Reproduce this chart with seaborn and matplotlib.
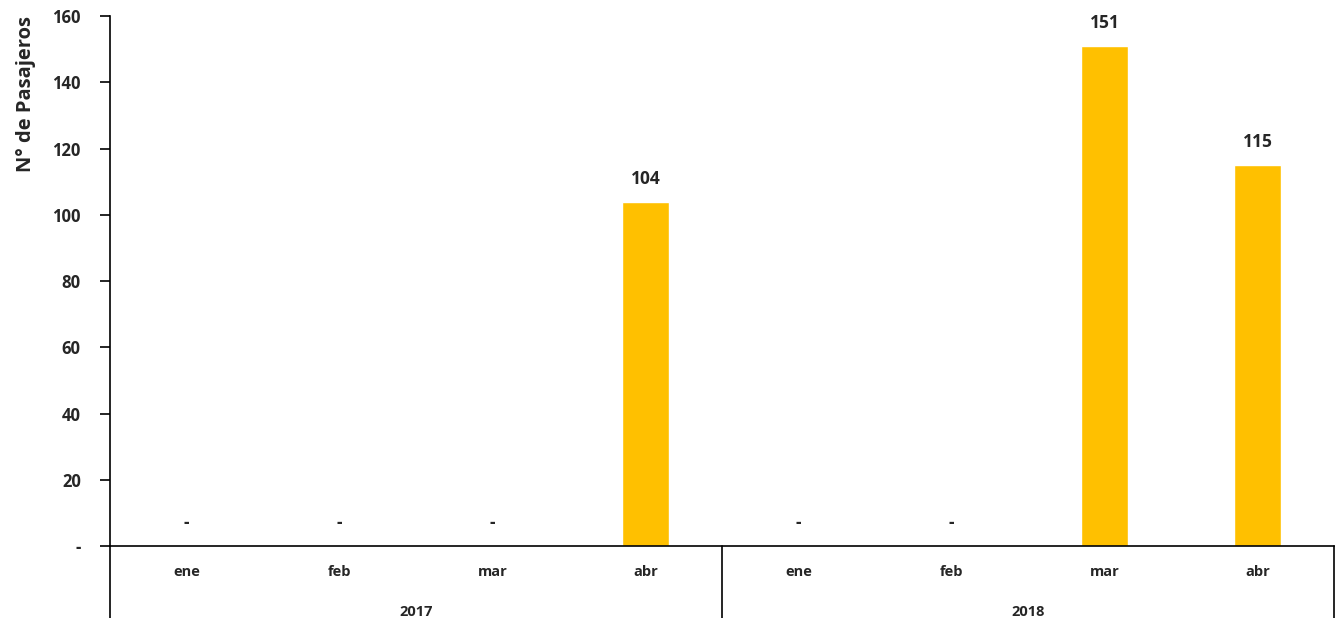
import pandas as pd
import seaborn as sns
import matplotlib.pyplot as plt
from matplotlib.ticker import FuncFormatter

###############################################################################
# Data
###############################################################################
years = ["2017", "2017", "2017", "2017", "2018", "2018", "2018", "2018"]
months = ["ene", "feb", "mar", "abr", "ene", "feb", "mar", "abr"]
passengers = [0, 0, 0, 104, 0, 0, 151, 115]

df = pd.DataFrame({"year": years, "month": months, "pasajeros": passengers})
df["periodo"] = df["month"] + "-" + df["year"]

###############################################################################
# Plot
###############################################################################
sns.set_style("white")
plt.rcParams["font.family"] = ["Open Sans", "DejaVu Sans"]

fig = plt.figure(figsize=(13.38, 6.18), dpi=100)
ax = fig.add_axes([0.0822, 0.1165, 0.9148, 0.8575])

sns.barplot(data=df, x="periodo", y="pasajeros", color="#FFC000",
            saturation=1, width=0.31, ax=ax)

ax.set_ylim(0, 160)
ax.set_xlim(-0.5, len(df) - 0.5)
ax.set_yticks(range(0, 161, 20))
ax.yaxis.set_major_formatter(FuncFormatter(lambda v, p: "-" if v == 0 else f"{v:.0f}"))
ax.tick_params(axis="y", which="major", direction="out", length=7, width=1.2,
               color="black", labelsize=12, pad=14, left=True)
for lbl in ax.get_yticklabels():
    lbl.set_fontweight("bold")

ax.set_xticks(range(len(df)))
ax.set_xticklabels(df["month"], fontsize=10.5, fontweight="bold")
ax.tick_params(axis="x", length=0, pad=14)

ax.set_xlabel("")
ax.set_ylabel("N° de Pasajeros", fontsize=14.5, fontweight="bold", labelpad=12,
              loc="top")

for side in ["top", "right"]:
    ax.spines[side].set_visible(False)
for side in ["left", "bottom"]:
    ax.spines[side].set_color("black")
    ax.spines[side].set_linewidth(1.2)

# value labels
for i, v in enumerate(df["pasajeros"]):
    ax.annotate("-" if v == 0 else str(v), (i, v), xytext=(0, 10),
                textcoords="offset points", ha="center", va="bottom",
                fontsize=12.5, fontweight="bold")

# group separators and year labels below the axis
trans = ax.get_xaxis_transform()
for xs in [-0.5, 3.5, 7.5]:
    ax.plot([xs, xs], [0, -0.14], transform=trans, color="black",
            lw=1.2, clip_on=False)
for yr in sorted(set(years)):
    idx = df.index[df["year"] == yr]
    ax.text((idx.min() + idx.max()) / 2, -0.125, yr, transform=trans,
            ha="center", va="center", fontsize=10.5, fontweight="bold")

fig.savefig("out.png", dpi=100)
